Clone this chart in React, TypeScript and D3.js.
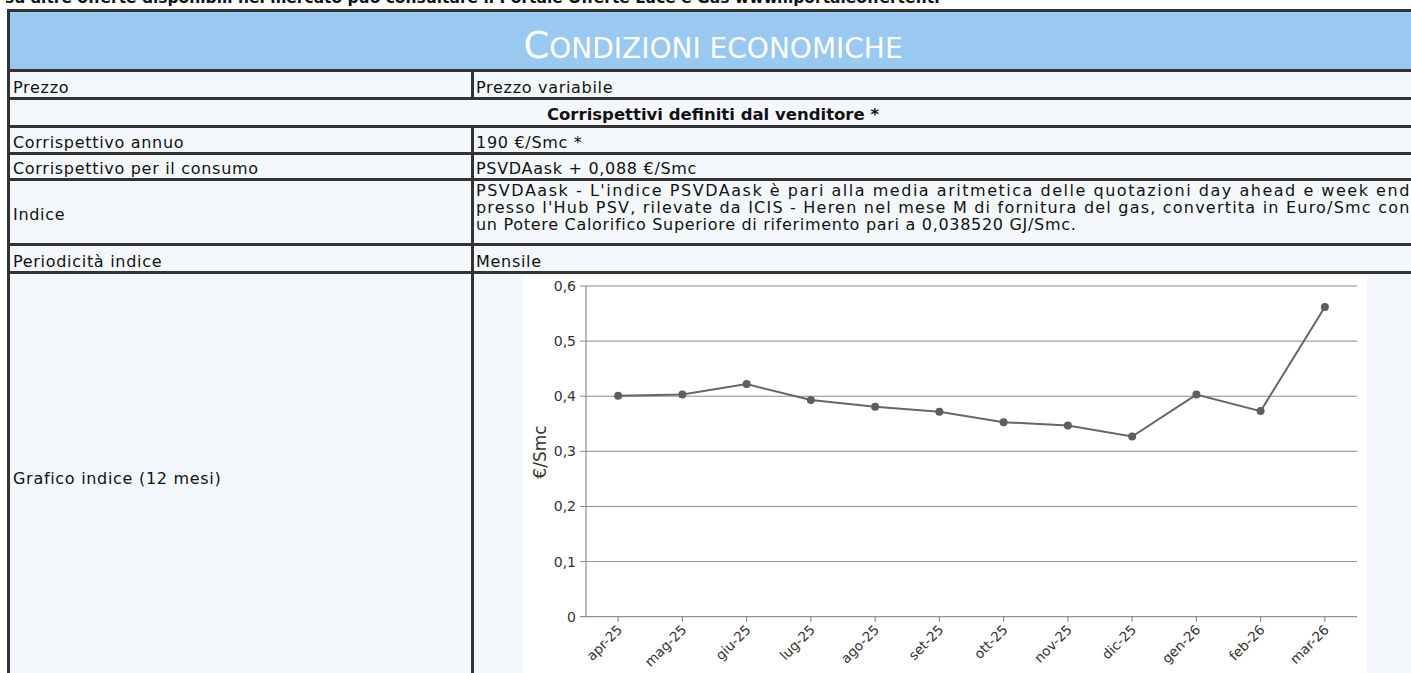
import React from "react";
import * as d3 from "d3";

const months = ["apr-25", "mag-25", "giu-25", "lug-25", "ago-25", "set-25", "ott-25", "nov-25", "dic-25", "gen-26", "feb-26", "mar-26"];
const indexValues = [0.401, 0.403, 0.422, 0.393, 0.381, 0.372, 0.353, 0.347, 0.327, 0.403, 0.373, 0.562];
const yTicks = [0, 0.1, 0.2, 0.3, 0.4, 0.5, 0.6];
const yAxisTitle = "€/Smc";

const topNote = "su altre offerte disponibili nel mercato può consultare il Portale Offerte Luce e Gas www.ilportaleofferte.it.";
const tableTitleFirst = "C";
const tableTitleRest = "ONDIZIONI ECONOMICHE";
const sectionRow = "Corrispettivi definiti dal venditore *";
const rowLabels = ["Prezzo", "Corrispettivo annuo", "Corrispettivo per il consumo", "Indice", "Periodicità indice", "Grafico indice (12 mesi)"];
const rowValues = ["Prezzo variabile", "190 €/Smc *", "PSVDAask + 0,088 €/Smc", "", "Mensile", ""];
const indiceLines = [
  "PSVDAask - L'indice PSVDAask è pari alla media aritmetica delle quotazioni day ahead e week end",
  "presso l'Hub PSV, rilevate da ICIS - Heren nel mese M di fornitura del gas, convertita in Euro/Smc con",
  "un Potere Calorifico Superiore di riferimento pari a 0,038520 GJ/Smc.",
];

const W = 1411;
const H = 673;
const BORDER = "#333333";
const CELL = "#F4F8FC";
const HEAD = "#99C9F0";
const FONT = "'DejaVu Sans', Verdana, sans-serif";

export default function App() {
  const left = 10;
  const right = 1417;
  const divider = 471;
  const gap = 3;

  const header = { y0: 12, y1: 69 };
  const rPrezzo = { y0: 72, y1: 97 };
  const rSection = { y0: 100, y1: 125 };
  const rAnnuo = { y0: 128, y1: 152 };
  const rConsumo = { y0: 155, y1: 178 };
  const rIndice = { y0: 181, y1: 243 };
  const rPeriod = { y0: 246, y1: 271 };
  const rChart = { y0: 274, y1: 700 };
  const twoCol = [rPrezzo, rAnnuo, rConsumo, rIndice, rPeriod, rChart];

  const plot = { x0: 586, x1: 1357, y0: 286, y1: 616.7 };
  const x = d3.scaleBand<string>().domain(months).range([plot.x0, plot.x1]).padding(0);
  const y = d3.scaleLinear().domain([0, 0.6]).range([plot.y1, plot.y0]);
  const cx = (m: string) => (x(m) as number) + x.bandwidth() / 2;
  const line = d3
    .line<number>()
    .x((_, i) => cx(months[i]))
    .y((d) => y(d));

  const textStyle: React.CSSProperties = { fontFamily: FONT, fontSize: 16, letterSpacing: 0.7, fill: "#111" };

  return (
    <div style={{ position: "absolute", left: 0, top: 0, width: W, height: H, overflow: "hidden", background: "#fff" }}>
      <svg width={W} height={H} style={{ display: "block" }}>
        <rect x={0} y={0} width={W} height={H} fill="#fff" />
        <text x={5} y={3} textLength={935} lengthAdjust="spacingAndGlyphs" style={{ fontFamily: FONT, fontSize: 15, fontWeight: 700, fill: "#111" }}>
          {topNote}
        </text>

        <rect x={left - gap} y={header.y0 - gap} width={right - left + 2 * gap} height={800} fill={BORDER} />
        <rect x={left} y={header.y0} width={right - left} height={header.y1 - header.y0} fill={HEAD} />
        <text x={713} y={58} textAnchor="middle" style={{ fontFamily: FONT, fill: "#fff" }}>
          <tspan style={{ fontSize: 37 }}>{tableTitleFirst}</tspan>
          <tspan style={{ fontSize: 28 }}>{tableTitleRest}</tspan>
        </text>

        <rect x={left} y={rSection.y0} width={right - left} height={rSection.y1 - rSection.y0} fill={CELL} />
        <text x={713} y={rSection.y1 - 5} textAnchor="middle" style={{ fontFamily: FONT, fontSize: 16.5, fontWeight: 700, fill: "#111" }}>
          {sectionRow}
        </text>

        {twoCol.map((r, i) => (
          <g key={i}>
            <rect x={left} y={r.y0} width={divider - left} height={r.y1 - r.y0} fill={CELL} />
            <rect x={divider + gap} y={r.y0} width={right - divider - gap} height={r.y1 - r.y0} fill={CELL} />
          </g>
        ))}

        {[rPrezzo, rAnnuo, rConsumo, rIndice, rPeriod].map((r, i) => {
          const isInd = r === rIndice;
          const base = isInd ? 220 : r.y1 - 4;
          return (
            <g key={"t" + i}>
              <text x={13} y={base} style={textStyle}>{rowLabels[i]}</text>
              {rowValues[i] && <text x={476} y={base} style={textStyle}>{rowValues[i]}</text>}
            </g>
          );
        })}
        {indiceLines.map((t, i) => (
          <text
            key={"ind" + i}
            x={476}
            y={196 + i * 17}
            style={textStyle}
            {...(i < 2 ? { textLength: 934, lengthAdjust: "spacing" } : {})}
          >
            {t}
          </text>
        ))}
        <text x={13} y={484} style={textStyle}>{rowLabels[5]}</text>

        <rect x={523} y={276} width={844} height={420} fill="#fff" />
        {yTicks.map((t) => (
          <g key={"g" + t}>
            <line x1={580} x2={plot.x1} y1={y(t)} y2={y(t)} stroke={t === 0 ? "#777" : "#8c8c8c"} strokeWidth={1} />
            <text x={576} y={y(t) + 5} textAnchor="end" style={{ fontFamily: FONT, fontSize: 14, fill: "#333" }}>
              {d3.format(".1f")(t).replace(".", ",").replace(/^0,0$/, "0")}
            </text>
          </g>
        ))}
        <line x1={plot.x0} x2={plot.x0} y1={plot.y0} y2={plot.y1} stroke="#777" strokeWidth={1} />
        {months.map((m) => (
          <g key={m}>
            <line x1={cx(m)} x2={cx(m)} y1={plot.y1} y2={plot.y1 + 5} stroke="#777" />
            <text
              transform={`translate(${cx(m) + 5},${plot.y1 + 14}) rotate(-45)`}
              textAnchor="end"
              style={{ fontFamily: FONT, fontSize: 13.5, fill: "#333" }}
            >
              {m}
            </text>
          </g>
        ))}
        <text transform={`translate(546,452) rotate(-90)`} textAnchor="middle" style={{ fontFamily: FONT, fontSize: 17, fill: "#333" }}>
          {yAxisTitle}
        </text>
        <path d={line(indexValues) || ""} fill="none" stroke="#666" strokeWidth={2} />
        {indexValues.map((v, i) => (
          <circle key={i} cx={cx(months[i])} cy={y(v)} r={4} fill="#5e5e5e" />
        ))}
      </svg>
    </div>
  );
}
